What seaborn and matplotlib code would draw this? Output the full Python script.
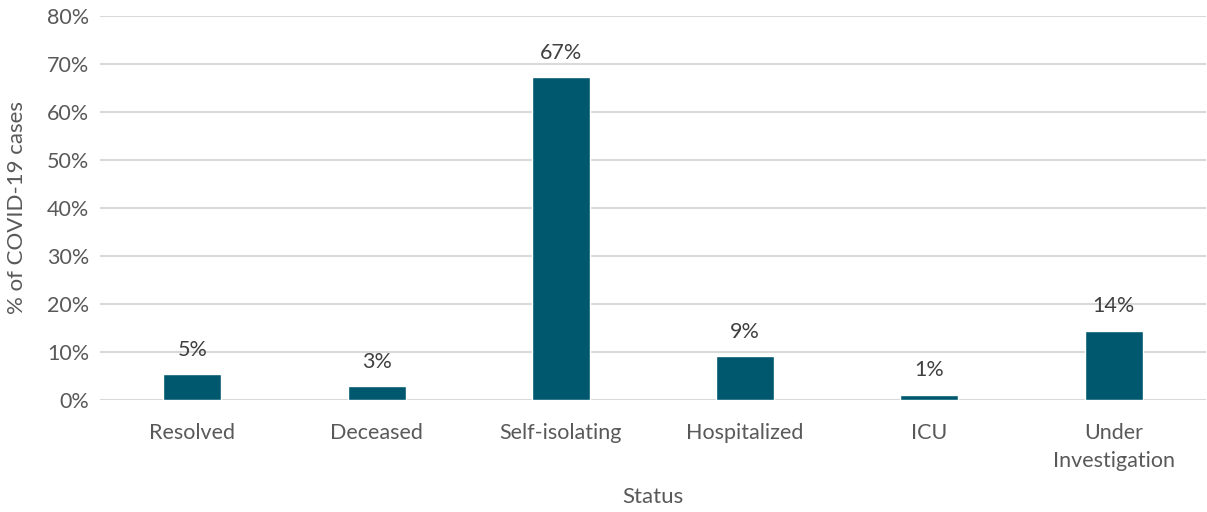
import numpy as np
import pandas as pd
import matplotlib
matplotlib.use("Agg")
import matplotlib.pyplot as plt
import seaborn as sns

status = ["Resolved", "Deceased", "Self-isolating", "Hospitalized", "ICU", "Under\nInvestigation"]
pct = [5.3, 2.9, 67.2, 9.1, 1.1, 14.4]
labels = ["5%", "3%", "67%", "9%", "1%", "14%"]

df = pd.DataFrame({"status": status, "pct": pct})

sns.set_theme(style="white")
plt.rcParams["font.family"] = ["Lato", "DejaVu Sans"]

fig = plt.figure(figsize=(12.07, 5.12), dpi=100)
ax = fig.add_axes([0.083, 0.219, 0.916, 0.75])

sns.barplot(data=df, x="status", y="pct", color="#00586E", width=0.315, saturation=1, ax=ax, zorder=3)

ax.set_ylim(0, 80)
ax.set_yticks(range(0, 81, 10))
ax.set_yticklabels([f"{t}%" for t in range(0, 81, 10)])
ax.yaxis.grid(True, color="#D9D9D9", linewidth=1.5, zorder=0)
ax.set_axisbelow(True)
for s in ax.spines.values():
    s.set_visible(False)
ax.tick_params(axis="both", length=0, labelsize=15.5, colors="#595959", pad=8)
ax.tick_params(axis="x", pad=17)
for t in ax.get_xticklabels():
    t.set_linespacing(1.45)

for i, (v, lab) in enumerate(zip(pct, labels)):
    ax.text(i, v + 3.0, lab, ha="center", va="bottom", fontsize=15.5, color="#404040")

ax.set_xlabel("Status", fontsize=16, color="#595959", labelpad=12)
ax.set_ylabel("% of COVID-19 cases", fontsize=16, color="#595959", labelpad=14)

fig.savefig("out.png", dpi=100)
